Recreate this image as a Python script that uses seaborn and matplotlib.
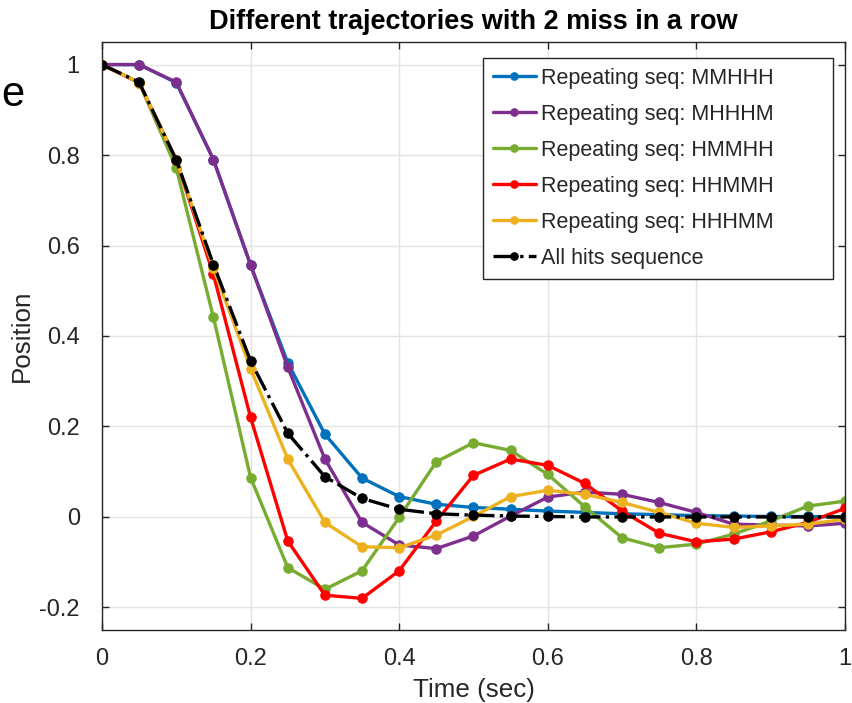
import seaborn as sns
import pandas as pd
import matplotlib.pyplot as plt

# Time axis (sec)
time = [0.0, 0.05, 0.1, 0.15, 0.2, 0.25, 0.3, 0.35, 0.4, 0.45, 0.5,
        0.55, 0.6, 0.65, 0.7, 0.75, 0.8, 0.85, 0.9, 0.95, 1.0]

# Position values
mmhhh = [1.0, 1.0, 0.96, 0.79, 0.557, 0.341, 0.183, 0.086, 0.045, 0.028, 0.021,
         0.017, 0.013, 0.010, 0.007, 0.005, 0.003, 0.002, 0.001, 0.001, 0.0]
mhhhm = [1.0, 1.0, 0.961, 0.79, 0.557, 0.331, 0.128, -0.012, -0.062, -0.070, -0.042,
         0.002, 0.044, 0.055, 0.050, 0.032, 0.010, -0.016, -0.018, -0.020, -0.014]
hmmhh = [1.0, 0.96, 0.771, 0.441, 0.087, -0.112, -0.160, -0.119, -0.001, 0.122, 0.164,
         0.147, 0.094, 0.022, -0.046, -0.068, -0.060, -0.038, -0.009, 0.024, 0.035]
hhmmh = [1.0, 0.96, 0.789, 0.536, 0.220, -0.053, -0.173, -0.180, -0.119, -0.009, 0.092,
         0.128, 0.114, 0.074, 0.013, -0.036, -0.055, -0.049, -0.033, -0.012, 0.019]
hhhmm = [1.0, 0.96, 0.789, 0.55, 0.328, 0.128, -0.012, -0.066, -0.068, -0.040, 0.001,
         0.045, 0.059, 0.050, 0.032, 0.010, -0.014, -0.023, -0.020, -0.016, -0.005]
all_hits = [1.0, 0.961, 0.789, 0.558, 0.345, 0.185, 0.089, 0.041, 0.017, 0.007, 0.004,
            0.002, 0.001, 0.0, 0.0, 0.0, 0.0, 0.0, 0.0, 0.0, 0.0]

labels = ['Repeating seq: MMHHH', 'Repeating seq: MHHHM', 'Repeating seq: HMMHH',
          'Repeating seq: HHMMH', 'Repeating seq: HHHMM', 'All hits sequence']
colors = ['#0072BD', '#7E2F8E', '#77AC30', '#FF0000', '#EDB120', '#000000']
styles = ['-', '-', '-', '-', '-', '-.']

sns.set_theme(style="whitegrid")
plt.rcParams['font.family'] = ['Liberation Sans', 'DejaVu Sans']

fig = plt.figure(figsize=(8.52, 7.03), dpi=100)
ax = fig.add_axes([0.1197, 0.1038, 0.8721, 0.8365])
ax.set_facecolor('white')

series = [mmhhh, mhhhm, hmmhh, hhmmh, hhhmm, all_hits]
for values, label, color, ls in zip(series, labels, colors, styles):
    df = pd.DataFrame({'Time': time, 'Position': values})
    sns.lineplot(data=df, x='Time', y='Position', ax=ax, color=color, label=label,
                 linestyle=ls, linewidth=2.4, marker='o', markersize=6.8,
                 markeredgecolor=color, markerfacecolor=color)

ax.set_xlim(0, 1)
ax.set_ylim(-0.25, 1.05)
ax.set_xticks([0, 0.2, 0.4, 0.6, 0.8, 1])
ax.set_xticklabels(['0', '0.2', '0.4', '0.6', '0.8', '1'])
ax.set_yticks([-0.2, 0, 0.2, 0.4, 0.6, 0.8, 1])
ax.set_yticklabels(['-0.2', '0', '0.2', '0.4', '0.6', '0.8', '1'])
ax.grid(True, color='#e3e3e3', linewidth=1.0)
ax.tick_params(direction='in', length=5, width=1, colors='#262626',
               labelsize=17, top=True, right=True, bottom=True, left=True)
ax.tick_params(axis='x', pad=13)
ax.tick_params(axis='y', pad=16)
for sp in ax.spines.values():
    sp.set_color('#262626')
    sp.set_linewidth(1.0)

ax.set_title('Different trajectories with 2 miss in a row', fontsize=19.5,
             fontweight='bold', color='black', pad=9)
ax.set_xlabel('Time (sec)', fontsize=18.7, color='#262626', labelpad=6)
ax.set_ylabel('Position', fontsize=18.7, color='#262626', labelpad=4)

# MATLAB-like legend box: wide frame, text left aligned
leg = ax.legend(loc='upper left', bbox_to_anchor=(0.513, 0.0, 0.471, 0.973),
                mode='expand', borderaxespad=0, fontsize=15.5, frameon=True,
                fancybox=False, handlelength=2.0, handletextpad=0.25,
                labelspacing=0.7, borderpad=0.45, markerscale=0.8)
leg.get_frame().set_edgecolor('#262626')
leg.get_frame().set_linewidth(1.0)
leg.get_frame().set_alpha(1.0)

# stray glyph at the left edge of the original image
fig.text(0.001, 0.865, 'e', fontsize=30, ha='left', va='center', color='black')

plt.savefig('out.png', dpi=100)
